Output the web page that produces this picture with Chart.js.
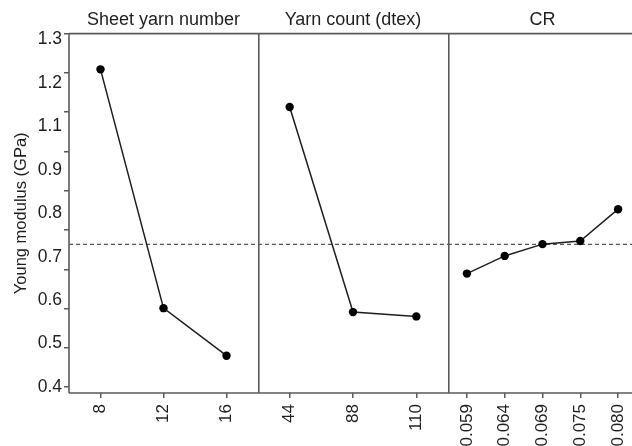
<!DOCTYPE html>
<html>
<head>
<meta charset="utf-8">
<script src="https://cdn.jsdelivr.net/npm/chart.js@4.4.0/dist/chart.umd.min.js"></script>
<style>
html, body { margin: 0; padding: 0; background: #fff; overflow: hidden; }
#wrap { display: flex; width: 640px; height: 446px; }
#wrap canvas { flex: none; display: block; }
</style>
</head>
<body>
<div id="wrap">
    <canvas id="c1" width="258" height="446"></canvas>
    <canvas id="c2" width="190" height="446"></canvas>
    <canvas id="c3" width="189" height="446"></canvas>
</div>
<script>
// Main effects of each factor on Young modulus
const sheetLabels = ['8', '12', '16'];
const sheetValues = [1.209, 0.601, 0.480];

const yarnLabels = ['44', '88', '110'];
const yarnValues = [1.113, 0.591, 0.580];

const crLabels = ['0.059', '0.064', '0.069', '0.075', '0.080'];
const crValues = [0.689, 0.734, 0.764, 0.772, 0.853];

const panelTitles = ['Sheet yarn number', 'Yarn count (dtex)', 'CR'];
// the printed labels skip 1.0 and sit evenly down the axis
const yTickLabels = ['1.3', '1.2', '1.1', '0.9', '0.8', '0.7', '0.6', '0.5', '0.4'];

const yMin = 0.385;
const yMax = 1.3;

// grand mean of the response (dashed reference line)
const grandMean = sheetValues.reduce((a, b) => a + b, 0) / sheetValues.length;

const FONT = 'Liberation Sans, Arial, sans-serif';
const INK = '#1e1e1e';
const FRAME = '#5a5a5a';

// frame + dashed mean line
const framePlugin = {
    id: 'frame',
    beforeDatasetsDraw(chart) {
        const { ctx, chartArea } = chart;
        const y = chart.scales.y.getPixelForValue(grandMean);
        ctx.save();
        ctx.strokeStyle = '#555';
        ctx.lineWidth = 1.2;
        ctx.setLineDash([4, 3]);
        ctx.beginPath();
        ctx.moveTo(chartArea.left, y);
        ctx.lineTo(chartArea.right, y);
        ctx.stroke();
        ctx.restore();
    },
    afterDraw(chart) {
        const { ctx, chartArea } = chart;
        const lw = 1.6;
        ctx.save();
        ctx.strokeStyle = FRAME;
        ctx.lineWidth = lw;
        ctx.beginPath();
        const left = chartArea.left < 5 ? chartArea.left + lw / 2 : chartArea.left;
        ctx.moveTo(left, chartArea.top);
        ctx.lineTo(left, chartArea.bottom);
        ctx.moveTo(chartArea.left, chartArea.top);
        ctx.lineTo(chartArea.right, chartArea.top);
        ctx.moveTo(chartArea.left, chartArea.bottom);
        ctx.lineTo(chartArea.right, chartArea.bottom);
        ctx.stroke();
        ctx.restore();
    }
};

function makePanel(id, labels, values, title, withAxis) {
    const scales = {
        x: {
            type: 'category',
            labels: labels,
            offset: true,
            grid: { display: true, drawOnChartArea: false, drawTicks: true, tickLength: 5, color: FRAME, lineWidth: 1.5 },
            border: { display: false },
            ticks: {
                minRotation: 90, maxRotation: 90, autoSkip: false, padding: 6,
                color: INK, font: { family: FONT, size: 17 }
            },
            afterFit(s) {
                s.height = 53;
                s.paddingLeft = 0;
                s.paddingRight = 0;
            }
        },
        y: {
            type: 'linear',
            min: yMin,
            max: yMax,
            display: withAxis,
            weight: 0,
            grid: { display: true, drawOnChartArea: false, drawTicks: true, tickLength: 5, color: FRAME, lineWidth: 1.5 },
            border: { display: false },
            ticks: { display: false, stepSize: 0.1, includeBounds: false },
            afterFit(s) {
                s.width = withAxis ? 6 : 0;
                s.paddingTop = 0;
                s.paddingBottom = 0;
            }
        }
    };
    if (withAxis) {
        scales.yl = {
            type: 'linear',
            position: 'left',
            weight: 1,
            min: -0.138,
            max: yTickLabels.length - 1 + 0.138,
            grid: { display: false, drawTicks: false },
            border: { display: false },
            ticks: {
                stepSize: 1, includeBounds: false, padding: 1,
                color: INK, font: { family: FONT, size: 17.5 },
                callback: v => yTickLabels[yTickLabels.length - 1 - v]
            },
            title: {
                display: true, text: 'Young modulus (GPa)', color: INK,
                font: { family: FONT, size: 16.5 }, padding: { top: 12, bottom: 0 }
            },
            afterFit(s) {
                s.width = 63;
                s.paddingTop = 0;
                s.paddingBottom = 0;
            }
        };
    }

    return new Chart(document.getElementById(id), {
        type: 'line',
        data: {
            labels: labels,
            datasets: [{
                data: values,
                borderColor: INK,
                borderWidth: 1.5,
                backgroundColor: '#000',
                pointBackgroundColor: '#000',
                pointBorderWidth: 0,
                pointRadius: 4.2,
                tension: 0,
                fill: false,
                clip: false
            }]
        },
        options: {
            responsive: false,
            animation: false,
            devicePixelRatio: 1,
            layout: { padding: 0, autoPadding: false },
            plugins: {
                legend: { display: false },
                tooltip: { enabled: false },
                title: {
                    display: true,
                    text: title,
                    fullSize: false,
                    color: INK,
                    font: { family: FONT, size: 18, weight: 'normal' },
                    padding: { top: 9, bottom: 3 }
                }
            },
            scales: scales
        },
        plugins: [framePlugin]
    });
}

makePanel('c1', sheetLabels, sheetValues, panelTitles[0], true);
makePanel('c2', yarnLabels, yarnValues, panelTitles[1], false);
makePanel('c3', crLabels, crValues, panelTitles[2], false);
</script>
</body>
</html>
